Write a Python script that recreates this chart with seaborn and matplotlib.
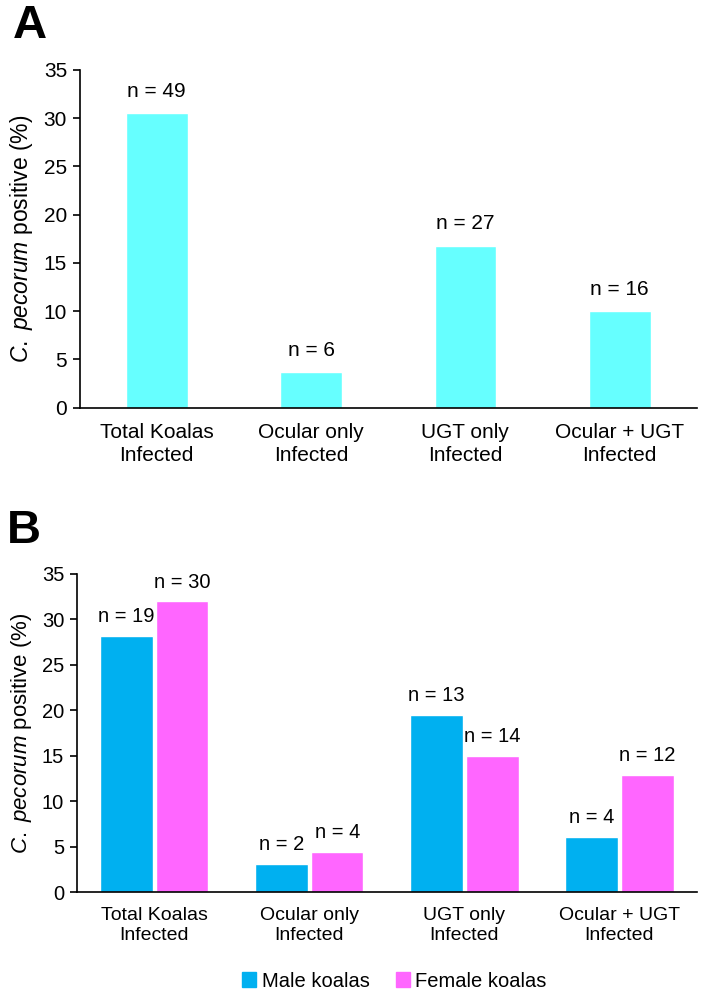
import seaborn as sns
import pandas as pd
from matplotlib import pyplot as plt
from matplotlib.patches import Patch

CATEGORIES = ["Total Koalas\nInfected", "Ocular only\nInfected", "UGT only\nInfected", "Ocular + UGT\nInfected"]
TOTAL_PCT = [30.5, 3.7, 16.8, 10.0]
TOTAL_N = [49, 6, 27, 16]
MALE_PCT = [28.2, 3.1, 19.5, 6.1]
FEMALE_PCT = [32.0, 4.4, 15.0, 12.9]
MALE_N = [19, 2, 13, 4]
FEMALE_N = [30, 4, 14, 12]
SEXES = ["Male koalas", "Female koalas"]

CYAN = "#66FFFF"
MALE_COLOUR = "#00B0F0"
FEMALE_COLOUR = "#FF66FF"

sns.set_style("white")
plt.rcParams["font.family"] = ["Liberation Sans", "DejaVu Sans"]
plt.rcParams["mathtext.fontset"] = "custom"
plt.rcParams["mathtext.it"] = "Liberation Sans:italic"
plt.rcParams["mathtext.rm"] = "Liberation Sans"
plt.rcParams["text.color"] = "black"
plt.rcParams["axes.labelcolor"] = "black"
plt.rcParams["xtick.color"] = "black"
plt.rcParams["ytick.color"] = "black"

YLABEL = r"$\it{C.\ pecorum}$ positive (%)"


def style_axis(ax, tick_size, cat_size, label_size, pad, spacing):
    sns.despine(ax=ax)
    for side in ("left", "bottom"):
        ax.spines[side].set_color("black")
        ax.spines[side].set_linewidth(1.2)
    ax.set_ylim(0, 35)
    ax.set_yticks(range(0, 36, 5))
    ax.set_xlim(-0.5, 3.5)
    ax.tick_params(axis="y", direction="out", length=5, width=1.2, labelsize=tick_size, left=True, pad=4)
    ax.tick_params(axis="x", length=0, labelsize=cat_size, pad=pad)
    for lab in ax.get_xticklabels():
        lab.set_linespacing(spacing)
    ax.set_xlabel("")
    ax.set_ylabel(YLABEL, fontsize=label_size, labelpad=6)


fig = plt.figure(figsize=(7.04, 9.92), dpi=100)

# Panel A: all koalas
ax_a = fig.add_axes([0.113, 0.589, 0.877, 0.3405])
df_a = pd.DataFrame({"category": CATEGORIES, "pct": TOTAL_PCT})
sns.barplot(data=df_a, x="category", y="pct", color=CYAN, saturation=1, width=0.4, ax=ax_a)
style_axis(ax_a, 15, 15, 16.5, 11, 1.25)
ax_a.bar_label(ax_a.containers[0], labels=[f"n = {n}" for n in TOTAL_N], padding=9, fontsize=15)
fig.text(0.018, 0.962, "A", fontsize=34, fontweight="bold")

# Panel B: split by sex
ax_b = fig.add_axes([0.109, 0.1008, 0.881, 0.3206])
df_b = pd.DataFrame({
    "category": CATEGORIES * 2,
    "pct": MALE_PCT + FEMALE_PCT,
    "sex": [SEXES[0]] * 4 + [SEXES[1]] * 4,
})
sns.barplot(data=df_b, x="category", y="pct", hue="sex", palette=[MALE_COLOUR, FEMALE_COLOUR],
            saturation=1, width=0.72, gap=0.06, ax=ax_b, legend=False)
style_axis(ax_b, 14.5, 14, 16, 11, 1.2)
ax_b.bar_label(ax_b.containers[0], labels=[f"n = {n}" for n in MALE_N], padding=7, fontsize=14.5)
ax_b.bar_label(ax_b.containers[1], labels=[f"n = {n}" for n in FEMALE_N], padding=7, fontsize=14.5)
fig.text(0.01, 0.453, "B", fontsize=34, fontweight="bold")

handles = [Patch(color=MALE_COLOUR, label=SEXES[0]), Patch(color=FEMALE_COLOUR, label=SEXES[1])]
fig.legend(handles=handles, loc="center", bbox_to_anchor=(0.56, 0.011), ncol=2, frameon=False,
           fontsize=14.5, handlelength=0.7, handleheight=0.7, handletextpad=0.25, columnspacing=1.3)

fig.savefig("out.png", dpi=100)
